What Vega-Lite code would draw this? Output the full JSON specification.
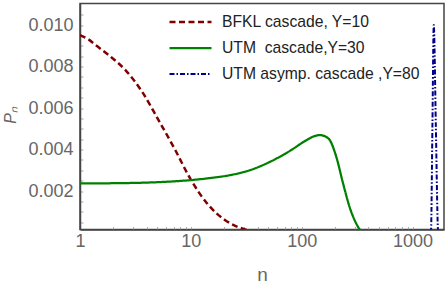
{
  "$schema": "https://vega.github.io/schema/vega-lite/v6.json",
  "width": 364,
  "height": 226,
  "autosize": {"type": "none"},
  "padding": {"left": 80, "top": 3.5, "right": 3, "bottom": 54.5},
  "background": "white",
  "config": {
    "font": "Liberation Sans",
    "view": {"stroke": "#444", "strokeWidth": 1.5}
  },
  "data": {
    "values": [
      {"series": "BFKL cascade, Y=10", "n": 1, "P": 0.00952},
      {"series": "BFKL cascade, Y=10", "n": 1.2, "P": 0.0093},
      {"series": "BFKL cascade, Y=10", "n": 1.38, "P": 0.00904},
      {"series": "BFKL cascade, Y=10", "n": 1.82, "P": 0.00855},
      {"series": "BFKL cascade, Y=10", "n": 2.57, "P": 0.00783},
      {"series": "BFKL cascade, Y=10", "n": 3.63, "P": 0.00679},
      {"series": "BFKL cascade, Y=10", "n": 5.11, "P": 0.00542},
      {"series": "BFKL cascade, Y=10", "n": 7.23, "P": 0.00398},
      {"series": "BFKL cascade, Y=10", "n": 9.85, "P": 0.00261},
      {"series": "BFKL cascade, Y=10", "n": 14.4, "P": 0.00133},
      {"series": "BFKL cascade, Y=10", "n": 20.4, "P": 0.0006},
      {"series": "BFKL cascade, Y=10", "n": 30.8, "P": 0.00015},
      {"series": "BFKL cascade, Y=10", "n": 36, "P": 0.00005},
      {"series": "UTM\u00a0 cascade,Y=30", "n": 1, "P": 0.00237},
      {"series": "UTM\u00a0 cascade,Y=30", "n": 2, "P": 0.00238},
      {"series": "UTM\u00a0 cascade,Y=30", "n": 4, "P": 0.00241},
      {"series": "UTM\u00a0 cascade,Y=30", "n": 6, "P": 0.00245},
      {"series": "UTM\u00a0 cascade,Y=30", "n": 10, "P": 0.00253},
      {"series": "UTM\u00a0 cascade,Y=30", "n": 15, "P": 0.00263},
      {"series": "UTM\u00a0 cascade,Y=30", "n": 22.6, "P": 0.00277},
      {"series": "UTM\u00a0 cascade,Y=30", "n": 34.2, "P": 0.00301},
      {"series": "UTM\u00a0 cascade,Y=30", "n": 51.7, "P": 0.00341},
      {"series": "UTM\u00a0 cascade,Y=30", "n": 78.3, "P": 0.00394},
      {"series": "UTM\u00a0 cascade,Y=30", "n": 110.6, "P": 0.00446},
      {"series": "UTM\u00a0 cascade,Y=30", "n": 130, "P": 0.00465},
      {"series": "UTM\u00a0 cascade,Y=30", "n": 146, "P": 0.0047},
      {"series": "UTM\u00a0 cascade,Y=30", "n": 165, "P": 0.00462},
      {"series": "UTM\u00a0 cascade,Y=30", "n": 179, "P": 0.00446},
      {"series": "UTM\u00a0 cascade,Y=30", "n": 205, "P": 0.00365},
      {"series": "UTM\u00a0 cascade,Y=30", "n": 236, "P": 0.00237},
      {"series": "UTM\u00a0 cascade,Y=30", "n": 270, "P": 0.00124},
      {"series": "UTM\u00a0 cascade,Y=30", "n": 310, "P": 0.00044},
      {"series": "UTM\u00a0 cascade,Y=30", "n": 334, "P": 0.00015},
      {"series": "UTM\u00a0 cascade,Y=30", "n": 350, "P": 0.00005},
      {"series": "UTM asymp. cascade ,Y=80", "n": 1460, "P": 0},
      {"series": "UTM asymp. cascade ,Y=80", "n": 1469, "P": 0.0002},
      {"series": "UTM asymp. cascade ,Y=80", "n": 1510, "P": 0.0052},
      {"series": "UTM asymp. cascade ,Y=80", "n": 1552, "P": 0.01},
      {"series": "UTM asymp. cascade ,Y=80", "n": 1620, "P": 0.0052},
      {"series": "UTM asymp. cascade ,Y=80", "n": 1691, "P": 0.0002},
      {"series": "UTM asymp. cascade ,Y=80", "n": 1700, "P": 0}
    ]
  },
  "mark": {"type": "line", "clip": true, "interpolate": "monotone"},
  "encoding": {
    "x": {
      "field": "n",
      "type": "quantitative",
      "scale": {"type": "log", "domain": [1, 1920], "nice": false},
      "axis": {
        "title": "n",
        "values": [1,2,3,4,5,6,7,8,9,10,20,30,40,50,60,70,80,90,100,200,300,400,500,600,700,800,900,1000],
        "labelExpr": "indexof([1,10,100,1000], datum.value) >= 0 ? format(datum.value, 'd') : ''",
        "labelOverlap": false,
        "labelFlush": false,
        "labelFontSize": 18,
        "labelColor": "#666",
        "labelPadding": 6,
        "tickSize": -3,
        "tickColor": "#aaa",
        "domainColor": "#444",
        "domainWidth": 1.5,
        "grid": false,
        "titleFontSize": 19,
        "titleFontWeight": "normal",
        "titleColor": "#666",
        "titleBaseline": "alphabetic",
        "titleY": 50.5
      }
    },
    "y": {
      "field": "P",
      "type": "quantitative",
      "scale": {"domain": [0.00015, 0.01104], "nice": false, "zero": false},
      "axis": {
        "title": "Pₙ",
        "values": [0.0005,0.001,0.0015,0.002,0.0025,0.003,0.0035,0.004,0.0045,0.005,0.0055,0.006,0.0065,0.007,0.0075,0.008,0.0085,0.009,0.0095,0.01,0.0105],
        "labelExpr": "abs(datum.value*500 - round(datum.value*500)) < 0.001 ? format(datum.value, '.3f') : ''",
        "labelOverlap": false,
        "labelFlush": false,
        "labelFontSize": 18,
        "labelColor": "#666",
        "labelPadding": 10,
        "tickSize": -3,
        "tickColor": "#aaa",
        "domainColor": "#444",
        "domainWidth": 1.5,
        "grid": false,
        "titleFontSize": 16,
        "titleFontStyle": "italic",
        "titleFontWeight": "normal",
        "titleColor": "#666",
        "titleAngle": -90,
        "titleAlign": "center",
        "titleBaseline": "alphabetic",
        "titleX": -65,
        "titleY": 111.5
      }
    },
    "color": {
      "field": "series",
      "type": "nominal",
      "scale": {
        "domain": ["BFKL cascade, Y=10", "UTM\u00a0 cascade,Y=30", "UTM asymp. cascade ,Y=80"],
        "range": ["#800000", "#008000", "#00008b"]
      },
      "legend": {
        "title": null,
        "orient": "none",
        "legendX": 88,
        "legendY": 10.5,
        "padding": 0,
        "symbolType": "stroke",
        "symbolSize": 1764,
        "symbolStrokeWidth": 1.5,
        "clipHeight": 16,
        "rowPadding": 10,
        "labelOffset": 9,
        "labelFontSize": 15.7,
        "labelColor": "#222",
        "labelLimit": 400
      }
    },
    "strokeDash": {
      "field": "series",
      "type": "nominal",
      "scale": {
        "domain": ["BFKL cascade, Y=10", "UTM\u00a0 cascade,Y=30", "UTM asymp. cascade ,Y=80"],
        "range": [[6, 3.5], [1, 0], [5, 2, 1.5, 2]]
      },
      "legend": {
        "title": null,
        "orient": "none",
        "legendX": 88,
        "legendY": 10.5,
        "padding": 0,
        "symbolType": "stroke",
        "symbolSize": 1764,
        "symbolStrokeWidth": 1.5,
        "clipHeight": 16,
        "rowPadding": 10,
        "labelOffset": 9,
        "labelFontSize": 15.7,
        "labelColor": "#222",
        "labelLimit": 400
      }
    },
    "strokeWidth": {
      "field": "series",
      "type": "nominal",
      "scale": {
        "domain": ["BFKL cascade, Y=10", "UTM\u00a0 cascade,Y=30", "UTM asymp. cascade ,Y=80"],
        "range": [2.5, 2, 2]
      },
      "legend": null
    }
  }
}
